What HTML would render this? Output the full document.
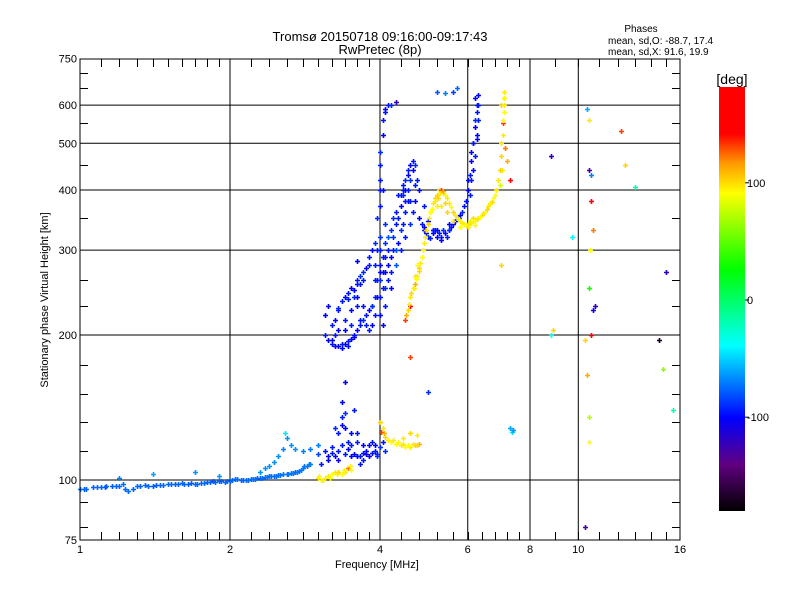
<!DOCTYPE html>
<html><head><meta charset="utf-8">
<style>
body{margin:0;background:#fff;}
svg{display:block;font-family:"Liberation Sans",sans-serif;}
</style></head>
<body>
<svg id="chart" width="800" height="600">
<rect width="800" height="600" fill="#fff"/>
<text x="380" y="41" text-anchor="middle" font-size="13">Tromsø 20150718 09:16:00-09:17:43</text>
<text x="380" y="54" text-anchor="middle" font-size="13">RwPretec (8p)</text>
<text x="641" y="32" text-anchor="middle" font-size="10">Phases</text>
<text x="608" y="44" font-size="10">mean, sd,O: -88.7, 17.4</text>
<text x="608" y="55" font-size="10">mean, sd,X:  91.6, 19.9</text>
<g id="grid"></g>
<g id="marks"></g>
<g id="axes"></g>
<text x="335" y="568" font-size="11">Frequency [MHz]</text>
<text transform="translate(48,300) rotate(-90)" text-anchor="middle" font-size="11">Stationary phase Virtual Height [km]</text>
<defs><linearGradient id="cb" x1="0" y1="0" x2="0" y2="1">
<stop offset="0" stop-color="#ff0000"/><stop offset="0.11" stop-color="#ff0000"/>
<stop offset="0.18" stop-color="#ff9900"/><stop offset="0.25" stop-color="#ffff00"/>
<stop offset="0.43" stop-color="#00ff00"/><stop offset="0.61" stop-color="#00ffff"/>
<stop offset="0.78" stop-color="#0000ff"/><stop offset="0.89" stop-color="#600080"/>
<stop offset="1" stop-color="#000000"/></linearGradient></defs>
<rect x="719" y="87" width="26" height="424" fill="url(#cb)"/>
<text x="732" y="84" text-anchor="middle" font-size="14">[deg]</text>
<g id="cbticks"></g>
</svg>
<script>
const xTickVals=[1,2,4,6,8,10,16];
const xTickLabels=["1","2","4","6","8","10","16"];
const yTickVals=[75,100,200,300,400,500,600,750];
const yTickLabels=["75","100","200","300","400","500","600","750"];
const cbVals=[100,0,-100];
const cbLabels=["100","0","-100"];
// E layer (O mode)
const eFreq=[1.0,1.03,1.06,1.1,1.13,1.16,1.2,1.23,1.25,1.28,1.3,1.35,1.4,1.45,1.5,1.55,1.6,1.65,1.7,1.75,1.8,1.85,1.9,1.95,2.0,2.05,2.1,2.15,2.2,2.25,2.3,2.35,2.4,2.45,2.5,2.55,2.6,2.65,2.7,2.75,2.8,2.85,2.9,1.2,1.4,1.7,1.9,2.3,2.35,2.4,2.45,2.5,2.55,2.58,2.6,2.65,2.7,2.8,2.9,3.0];
const eHeight=[96,96,96.5,96.5,97,97,97,96,95,96,97,97.5,97,97.5,98,98,98.5,98,98,98.5,99,99.5,99.5,99,99.5,100.5,100,100,100.5,100.5,101,101.5,102,102,102.5,103,103,103.5,104,104.5,106,107,108,101,103,104,102,104,106,107,109,112,116,125,122,118,116,115,116,118];
const ePhase=[-75,-75,-76,-76,-75,-78,-76,-75,-74,-76,-75,-76,-78,-76,-75,-78,-76,-78,-75,-76,-78,-80,-75,-78,-76,-75,-76,-74,-76,-75,-76,-76,-74,-76,-75,-72,-74,-72,-74,-72,-72,-74,-70,-70,-62,-65,-65,-65,-66,-66,-66,-66,-68,-45,-66,-66,-66,-70,-72,-70];
const eFreq2=[1.02,1.08,1.12,1.18,1.22,1.32,1.37,1.42,1.47,1.52,1.57,1.62,1.67,1.72,1.77,1.82,1.87,1.92,1.97,2.02,2.07,2.12,2.17,2.22,2.27,2.32,2.37,2.42,2.47,2.52,2.62,2.68,2.72,2.78,2.82,2.88];
const eHeight2=[96,96.5,96.5,97,98,97,97,97.5,97.5,98,98,98,98.5,98,98.5,99,99,99.5,99.5,100,100.5,100,100,100.5,101,101,101.5,102,102,102.5,103,103.5,104,105,107,108];
const ePhase2=[-76,-75,-78,-76,-75,-77,-76,-78,-75,-76,-77,-75,-78,-76,-75,-77,-76,-78,-75,-76,-74,-76,-75,-74,-76,-74,-73,-74,-72,-73,-72,-73,-72,-71,-72,-70];
// Sporadic / E2 O mode cluster
const sFreq=[3.0,3.1,3.15,3.2,3.25,3.3,3.3,3.35,3.4,3.4,3.45,3.5,3.5,3.55,3.6,3.6,3.7,3.7,3.8,3.9,4.0,4.05,3.4,3.35,3.25,3.65,3.75,3.85,3.95,4.1,3.05,3.15,3.2,3.3,3.35,3.45,3.5,3.55,3.65,3.75,3.85,3.9,3.95,3.35,3.4,3.6,3.8,3.7];
const sHeight=[113,115,110,117,112,115,125,130,113,138,120,112,125,140,112,120,110,118,112,115,117,120,160,145,128,108,115,120,113,115,108,112,114,110,118,116,118,113,112,113,114,118,112,135,128,125,118,114];
const sPhase=[-85,-95,-100,-95,-100,-95,-95,-100,-95,-90,-95,-100,-100,-95,-100,-95,-95,-100,-105,-95,-90,-95,-100,-100,-90,-95,-100,-95,-95,-90,-95,-100,-95,-105,-95,-100,-95,-100,-95,-105,-95,-100,-90,-95,-100,-95,-100,-95];
// E layer X mode
const exFreq=[3.0,3.05,3.1,3.15,3.2,3.25,3.3,3.35,3.4,3.45,3.5,4.0,4.02,4.05,4.1,4.15,4.2,4.3,4.4,4.5,4.6,4.7,4.8,4.75,4.6,4.45,3.02,3.08,3.18,3.28,3.38,3.48,4.08,4.25,4.35,4.45,4.55,4.65,4.75];
const exHeight=[101,100,101,102,103,104,104,103,104,106,105,132,126,128,123,121,120,119,118,117,117,118,119,124,125,122,102,100,101,103,105,107,125,121,120,119,118,119,118];
const exPhase=[95,90,92,95,90,95,100,90,95,120,90,100,130,95,100,95,90,92,95,90,95,100,110,95,100,95,92,95,90,95,92,95,110,95,92,95,90,95,100];
// F layer O mode
const fFreq=[3.1,3.1,3.15,3.2,3.25,3.3,3.35,3.4,3.45,3.5,3.55,3.6,3.65,3.7,3.75,3.8,3.6,3.5,3.4,3.3,3.2,3.15,3.3,3.45,3.5,3.6,3.7,3.8,3.6,3.85,3.9,3.95,4.0,4.0,4.0,4.05,4.1,4.15,4.2,4.3,4.4,4.45,4.5,4.55,4.6,4.65,4.7,4.75,4.8,4.9,5.0,5.1,5.2,5.3,5.4,5.5,5.6,5.7,5.8,5.9,6.0,6.05,6.1,6.15,6.2,6.25,6.3,6.3,6.25,6.2,6.15,4.0,3.95,4.0,4.05,4.1,4.2,4.3,3.9,4.3,4.4,4.5,4.2,4.1,3.85,3.75,4.05,4.3,5.1,5.3,4.9,5.5,5.2,5.4,5.6,5.7,4.35,4.25,4.15,4.45,4.55,3.55,3.65,4.0,4.1];
const fHeight=[220,200,195,192,190,190,192,192,194,196,200,205,210,215,220,225,230,225,215,205,210,230,228,245,250,260,270,280,285,230,240,260,280,300,320,290,270,300,330,360,390,410,420,440,450,460,450,420,400,370,345,330,320,320,325,330,340,350,355,370,400,430,460,500,540,580,630,560,510,470,440,400,350,450,520,580,600,610,260,300,330,360,250,230,230,210,210,280,330,315,330,330,640,635,640,650,390,350,320,400,380,240,255,270,250];
const fPhase=[-100,-95,-100,-95,-105,-100,-95,-100,-95,-100,-95,-100,-95,-90,-95,-100,-95,-100,-95,-100,-95,-100,-90,-95,-100,-95,-90,-95,-100,-95,-90,-95,-100,-95,-90,-95,-100,-95,-90,-95,-100,-95,-90,-95,-100,-95,-90,-95,-100,-95,-100,-95,-100,-95,-100,-95,-100,-95,-100,-95,-100,-95,-100,-95,-100,-95,-100,-95,-100,-95,-100,-95,-90,-95,-100,-95,-90,-120,-95,-80,-90,-95,-100,-95,-90,-95,-100,-80,-95,-100,-95,-90,-80,-70,-85,-75,-95,-90,-80,-95,-100,-90,-95,-100,-90];
const fFreq2=[3.35,3.4,3.45,3.55,3.6,3.65,3.7,3.75,3.8,3.85,3.9,3.9,3.95,3.95,3.9,3.85,3.8,4.0,4.0,4.0,4.05,4.05,4.1,4.1,4.15,4.15,4.2,4.2,4.25,4.25,4.3,4.35,4.35,4.4,4.4,4.45,4.45,4.5,4.5,4.55,4.55,4.6,4.6,4.65,4.7,4.7,4.65,4.6,4.5,4.8,4.85,4.9,4.95,5.0,5.05,5.1,5.15,5.2,5.25,5.35,5.45,5.5,5.55,5.65,5.75,5.85,5.95,6.0,6.05,6.1,6.15,6.2,6.25,6.2,6.3,6.25,6.1,3.2,3.25,3.35,3.45,3.55,3.65,3.4,3.5,3.25,3.3,3.6,3.7,4.1,4.0,4.05,4.0,4.0,4.05,4.1,4.15];
const fHeight2=[235,240,238,248,255,265,260,275,290,300,280,310,300,240,220,210,205,260,240,220,250,270,290,310,260,280,270,290,300,320,340,310,350,370,300,390,340,400,380,430,400,420,380,440,410,380,360,340,320,350,340,335,325,320,318,325,330,330,325,330,320,340,335,345,350,360,380,420,390,480,500,560,600,620,600,520,420,195,200,188,190,198,215,205,210,215,225,240,230,340,370,400,420,480,560,590,600];
const fPhase2=[-95,-100,-95,-100,-95,-90,-95,-100,-95,-100,-95,-90,-95,-100,-95,-100,-95,-90,-95,-100,-95,-100,-95,-90,-95,-100,-95,-100,-95,-90,-95,-100,-95,-100,-95,-90,-95,-100,-95,-100,-95,-90,-95,-100,-95,-100,-95,-90,-95,-100,-95,-100,-95,-90,-95,-100,-95,-100,-95,-90,-95,-100,-95,-100,-95,-90,-95,-100,-95,-100,-95,-90,-95,-100,-95,-100,-95,-100,-95,-100,-95,-100,-95,-100,-95,-100,-95,-100,-95,-90,-95,-100,-95,-90,-95,-100,-95];
// F layer X mode
const xFreq=[4.5,4.55,4.6,4.65,4.7,4.75,4.8,4.85,4.9,5.0,5.05,5.1,5.2,5.25,5.3,5.4,5.5,5.6,5.7,5.8,5.9,6.0,6.1,6.2,6.3,6.4,6.5,6.6,6.7,6.8,6.9,7.0,7.05,7.1,7.1,7.05,7.0,4.6,4.7,4.75,5.15,5.35,6.05,6.15,7.08,7.12,7.02,6.95,7.2,7.3];
const xHeight=[215,225,240,250,255,265,275,290,310,340,360,375,390,400,400,390,375,360,350,345,340,340,342,345,350,355,360,370,378,390,420,470,520,580,640,550,600,230,265,280,385,395,345,350,620,490,440,410,460,420];
const xPhase=[130,100,95,90,110,95,100,90,95,100,90,95,100,95,130,90,95,100,90,95,85,100,95,90,95,100,90,95,100,90,95,100,95,90,95,130,100,140,95,90,100,95,80,100,100,120,95,80,110,140];
const xFreq2=[4.52,4.58,4.62,4.68,4.72,4.78,4.82,4.88,4.92,4.95,5.02,5.08,5.15,5.22,5.28,5.35,5.45,5.55,5.65,5.75,5.85,5.95,6.05,6.15,6.25,6.35,6.45,6.55,6.65,6.75,6.85,6.95,7.0,7.05,7.08,7.1,5.3,5.45,5.6,5.8,6.0,6.2,5.2,5.4];
const xHeight2=[220,232,245,250,262,272,282,300,320,330,350,365,380,385,395,398,385,368,355,348,342,338,342,345,348,352,358,365,375,385,400,440,500,560,600,620,370,360,345,335,335,338,370,375];
const xPhase2=[110,95,100,95,90,100,95,92,95,100,95,90,95,100,95,110,95,90,95,92,95,90,95,92,95,90,95,100,95,90,95,100,95,90,95,92,95,100,95,90,95,92,95,100];
// scattered echoes
const rFreq=[8.8,8.8,8.9,9.7,10.3,10.4,10.5,10.5,10.6,10.6,10.7,10.8,10.5,10.6,10.4,10.5,12.2,12.4,13.0,14.5,15.0,16.0,15.5,14.8,10.3,10.5,7.3,7.35,7.4,7.0,4.6,5.0,10.55,10.7];
const rHeight=[470,200,205,320,195,590,560,440,430,380,330,230,250,200,165,120,530,450,405,195,270,320,140,170,80,135,128,126,127,280,180,152,300,225];
const rPhase=[-120,-40,100,-40,100,-60,95,-130,-70,140,120,-120,30,160,110,90,130,100,-20,-170,-120,-40,-20,60,-130,70,-60,-50,-65,100,130,-90,90,-110];

const X=f=>80+150*Math.log2(f);
const Y=h=>480-481.7*Math.log10(h/100);
const stops=[[180,[255,0,0]],[140,[255,0,0]],[115,[255,153,0]],[90,[255,255,0]],[25,[0,255,0]],[-40,[0,255,255]],[-100,[0,0,255]],[-140,[96,0,128]],[-180,[0,0,0]]];
function col(p){
  p=Math.max(-180,Math.min(180,p));
  for(let i=0;i<stops.length-1;i++){
    const a=stops[i],b=stops[i+1];
    if(p<=a[0]&&p>=b[0]){
      const t=(a[0]-p)/(a[0]-b[0]||1);
      const c=a[1].map((v,k)=>Math.round(v+(b[1][k]-v)*t));
      return `rgb(${c[0]},${c[1]},${c[2]})`;
    }
  }
  return "#000";
}
const NS="http://www.w3.org/2000/svg";
function mk(tag,attrs,parent){const e=document.createElementNS(NS,tag);for(const k in attrs)e.setAttribute(k,attrs[k]);parent.appendChild(e);return e;}
const grid=document.getElementById('grid'),axes=document.getElementById('axes'),marks=document.getElementById('marks'),cbt=document.getElementById('cbticks');
[2,4,6,8,10].forEach(f=>{
  const l=mk('line',{x1:X(f),x2:X(f),y1:59,y2:540,stroke:'#000','stroke-width':1},grid);
  
  
});
[100,200,300,400,500,600].forEach(h=>{
  const l=mk('line',{x1:80,x2:680,y1:Y(h),y2:Y(h),stroke:'#000','stroke-width':1},grid);
  
  
});
function plot(F,H,P,name){
  for(let i=0;i<F.length;i++){
    const x=Math.round(X(F[i]))+0.5,y=Math.round(Y(H[i]))+0.5;
    if(x<80||x>680||y<59||y>540)continue;
    const c=col(P[i]);
    const g=mk('path',{d:`M${x-2.5},${y}h5M${x},${y-2.5}v5`,stroke:c,'stroke-width':1.6,fill:'none'},marks);
    
    
  }
}
plot(eFreq,eHeight,ePhase,'e-layer-o-point');
plot(eFreq2,eHeight2,ePhase2,'e-layer-o-point');
plot(sFreq,sHeight,sPhase,'sporadic-e-point');
plot(exFreq,exHeight,exPhase,'e-layer-x-point');
plot(fFreq,fHeight,fPhase,'f-layer-o-point');
plot(fFreq2,fHeight2,fPhase2,'f-layer-o-point');
plot(xFreq,xHeight,xPhase,'f-layer-x-point');
plot(xFreq2,xHeight2,xPhase2,'f-layer-x-point');
plot(rFreq,rHeight,rPhase,'scatter-point');
const fr=mk('rect',{x:80,y:59,width:600,height:481,fill:'none',stroke:'#000','stroke-width':1},axes);


const minorX=[];
for(let f=1.1;f<1.95;f+=0.1)minorX.push(f);
for(let f=2.2;f<3.95;f+=0.2)minorX.push(f);
for(let f=4.4;f<7.9;f+=0.4)minorX.push(f);
for(let f=9;f<15.5;f+=1)minorX.push(f);
minorX.forEach(f=>{
  const x=Math.round(X(f))+0.5;
  mk('line',{x1:x,x2:x,y1:540,y2:532,stroke:'#000'},axes);
  mk('line',{x1:x,x2:x,y1:59,y2:67,stroke:'#000'},axes);
});
const minorY=[80,90,115,132,151,173,230,260,350,450,550,650,700];
minorY.forEach(h=>{
  const y=Math.round(Y(h))+0.5;
  mk('line',{x1:80,x2:88,y1:y,y2:y,stroke:'#000'},axes);
  mk('line',{x1:672,x2:680,y1:y,y2:y,stroke:'#000'},axes);
});
xTickVals.forEach((f,i)=>{
  const t=mk('text',{x:X(f),y:553,'text-anchor':'middle','font-size':11},axes);
  t.textContent=xTickLabels[i];
  
  
});
yTickVals.forEach((h,i)=>{
  const t=mk('text',{x:77,y:Y(h)+4,'text-anchor':'end','font-size':11},axes);
  t.textContent=yTickLabels[i];
  
  
});
cbVals.forEach((v,i)=>{
  const y=300-v*1.172;
  mk('line',{x1:745,x2:749,y1:y,y2:y,stroke:'#000'},cbt);
  const t=mk('text',{x:747,y:y+4,'font-size':11},cbt);
  t.textContent=cbLabels[i];
  
  
});
</script>
</body></html>
